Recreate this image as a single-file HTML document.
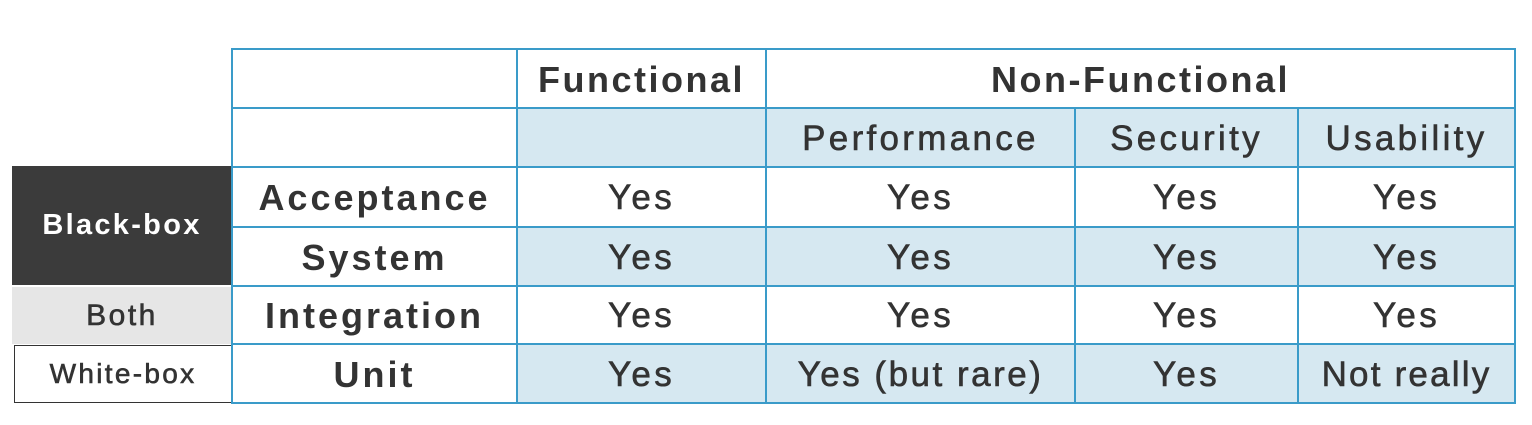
<!DOCTYPE html>
<html><head><style>
body{margin:0;width:1532px;height:425px;background:#fff;position:relative;overflow:hidden;font-family:"Liberation Sans",sans-serif;color:#333}
.c{position:absolute;display:flex;align-items:center;justify-content:center;box-sizing:border-box;font-size:35px;letter-spacing:3.3px;-webkit-text-stroke:0.6px #333}
.b{font-weight:bold;-webkit-text-stroke:0;font-size:36px;letter-spacing:3px}
.s{background:#d6e8f1}
.h{position:absolute;background:#3a9bc9;height:2px}
.v{position:absolute;background:#3a9bc9;width:2px}
</style></head><body>
<div class="c s" style="left:517px;top:108px;width:998px;height:59px"></div>
<div class="c s" style="left:517px;top:227px;width:998px;height:59px"></div>
<div class="c s" style="left:517px;top:344px;width:998px;height:59px"></div>
<div class="c b" style="left:12px;top:166px;width:220px;height:119px;background:#3b3b3b;color:#fff;font-size:29px;letter-spacing:2.3px">Black-box</div>
<div class="c" style="left:12px;top:287px;width:220px;height:57px;background:#e6e6e6;font-size:30px;letter-spacing:2.5px">Both</div>
<div class="c" style="left:14px;top:345px;width:218px;height:58px;border:1.5px solid #333;font-size:28px;letter-spacing:2.3px">White-box</div>
<div class="h" style="left:232px;top:48px;width:1284px"></div>
<div class="h" style="left:232px;top:107px;width:1284px"></div>
<div class="h" style="left:232px;top:166px;width:1284px"></div>
<div class="h" style="left:232px;top:226px;width:1284px"></div>
<div class="h" style="left:232px;top:285px;width:1284px"></div>
<div class="h" style="left:232px;top:343px;width:1284px"></div>
<div class="h" style="left:232px;top:402px;width:1284px"></div>
<div class="v" style="left:231px;top:48px;height:356px"></div>
<div class="v" style="left:516px;top:48px;height:356px"></div>
<div class="v" style="left:765px;top:48px;height:356px"></div>
<div class="v" style="left:1074px;top:107px;height:297px"></div>
<div class="v" style="left:1297px;top:107px;height:297px"></div>
<div class="v" style="left:1514px;top:48px;height:356px"></div>
<div class="c b" style="left:517px;top:50px;width:249px;height:59px;font-size:36px;letter-spacing:2.5px">Functional</div>
<div class="c b" style="left:766px;top:50px;width:749px;height:59px;font-size:36px;letter-spacing:2.5px">Non-Functional</div>
<div class="c" style="left:766px;top:109px;width:309px;height:59px">Performance</div>
<div class="c" style="left:1075px;top:109px;width:223px;height:59px">Security</div>
<div class="c" style="left:1298px;top:109px;width:217px;height:59px">Usability</div>
<div class="c b" style="left:232px;top:168px;width:285px;height:60px">Acceptance</div>
<div class="c b" style="left:232px;top:228px;width:285px;height:59px">System</div>
<div class="c b" style="left:232px;top:287px;width:285px;height:58px">Integration</div>
<div class="c b" style="left:232px;top:345px;width:285px;height:59px">Unit</div>
<div class="c" style="left:517px;top:168px;width:249px;height:60px">Yes</div>
<div class="c" style="left:766px;top:168px;width:309px;height:60px">Yes</div>
<div class="c" style="left:1075px;top:168px;width:223px;height:60px">Yes</div>
<div class="c" style="left:1298px;top:168px;width:217px;height:60px">Yes</div>
<div class="c" style="left:517px;top:228px;width:249px;height:59px">Yes</div>
<div class="c" style="left:766px;top:228px;width:309px;height:59px">Yes</div>
<div class="c" style="left:1075px;top:228px;width:223px;height:59px">Yes</div>
<div class="c" style="left:1298px;top:228px;width:217px;height:59px">Yes</div>
<div class="c" style="left:517px;top:287px;width:249px;height:58px">Yes</div>
<div class="c" style="left:766px;top:287px;width:309px;height:58px">Yes</div>
<div class="c" style="left:1075px;top:287px;width:223px;height:58px">Yes</div>
<div class="c" style="left:1298px;top:287px;width:217px;height:58px">Yes</div>
<div class="c" style="left:517px;top:345px;width:249px;height:59px">Yes</div>
<div class="c" style="left:766px;top:345px;width:309px;height:59px;letter-spacing:2.5px">Yes (but rare)</div>
<div class="c" style="left:1075px;top:345px;width:223px;height:59px">Yes</div>
<div class="c" style="left:1298px;top:345px;width:217px;height:59px;letter-spacing:2.2px">Not really</div>
</body></html>
